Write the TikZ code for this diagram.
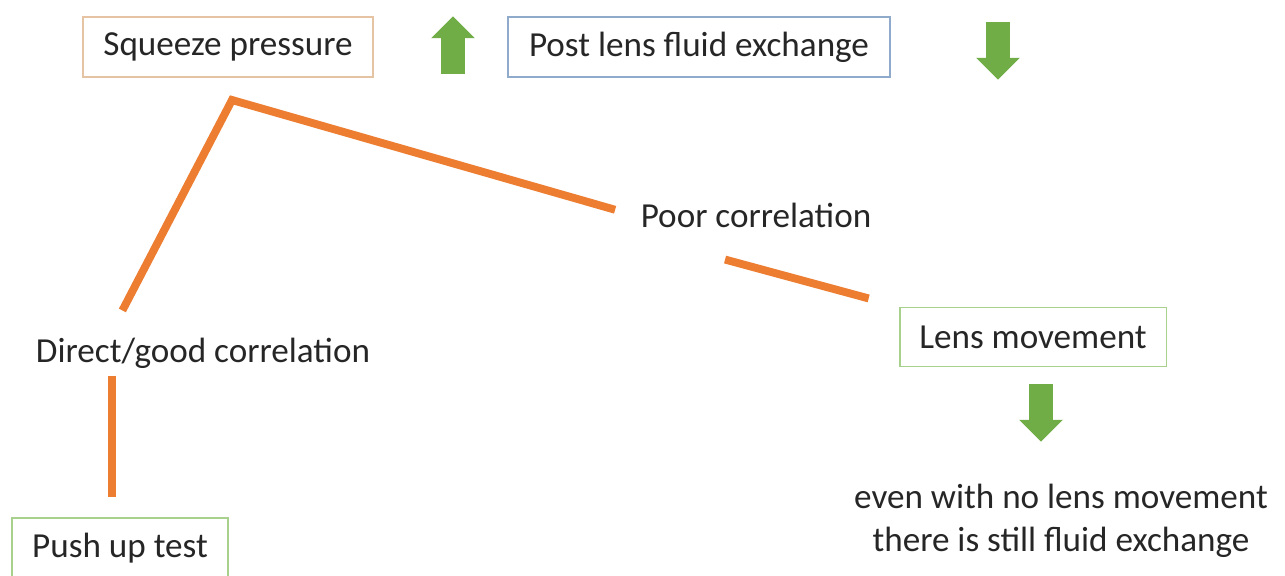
\documentclass[tikz,border=0pt]{standalone}
\usepackage{fontspec}
\setmainfont{Carlito}
\usepackage{xcolor}
\usepackage{tikz}
\usetikzlibrary{arrows.meta,positioning,shapes.arrows,calc}
\definecolor{figOrange}{HTML}{ED7D31}
\definecolor{figTan}{HTML}{E6C3A2}
\definecolor{figSteel}{HTML}{8FAACB}
\definecolor{figLeaf}{HTML}{A9D18E}
\definecolor{figGreen}{HTML}{70AD47}
\definecolor{figText}{HTML}{262626}
\tikzset{
  every node/.style={text=figText, font=\fontsize{20}{24.5}\selectfont},
  tagbox/.style={draw, line width=1.1pt, fill=white, minimum height=1.2cm,
        align=center, inner sep=4pt},
  corr/.style={draw=figOrange, line width=4.5pt},
  blockup/.style={single arrow, fill=figGreen, draw=none, rotate=90,
        minimum height=1.15cm, inner xsep=0pt, inner ysep=0.23cm,
        single arrow head extend=0.2cm},
  blockdown/.style={blockup, rotate=180}
}
\begin{document}
\begin{tikzpicture}[x=0.02cm, y=-0.02cm,
  note/.style={align=center, inner sep=4pt}
]
\useasboundingbox (0,0) rectangle (1285,575);
% top row
\node[tagbox, draw=figTan, minimum width=5.8cm] (squeeze) at (228,47) {Squeeze pressure};
\node[blockup] (up) at (453,51) {};
\node[tagbox, draw=figSteel, minimum width=7.64cm] (post) at (699,47) {Post lens fluid exchange};
\node[blockdown] (down) at (998,45) {};

% correlation labels
\coordinate (apex) at (232,100);
\node[note] (dir)  at (203,353) {Direct/good correlation};
\node[note] (poor) at (756,215) {Poor correlation};

% lower boxes
\node[tagbox, draw=figLeaf, minimum width=4.32cm] (push) at (120,548) {Push up test};
\node[tagbox, draw=figLeaf, minimum width=5.34cm, minimum height=1.18cm] (lens) at (1033,337) {Lens movement};
\node[blockdown] (down2) at (1041,407) {};
\node[note] (still) at (1061,521)
  {even with no lens movement\\there is still fluid exchange};

% connectors
\coordinate (stem) at ([xshift=-0.16cm]push.north);
\draw[corr, shorten <=0.45cm, shorten >=0.38cm] (dir.north -| stem) -- (apex) -- (poor.west);
\draw[corr] (dir.south -| stem) -- ([yshift=0.4cm]stem);
\draw[corr, shorten <=1.9cm, shorten >=0.62cm] (poor.south west) -- (lens.north west);
\end{tikzpicture}
\end{document}
